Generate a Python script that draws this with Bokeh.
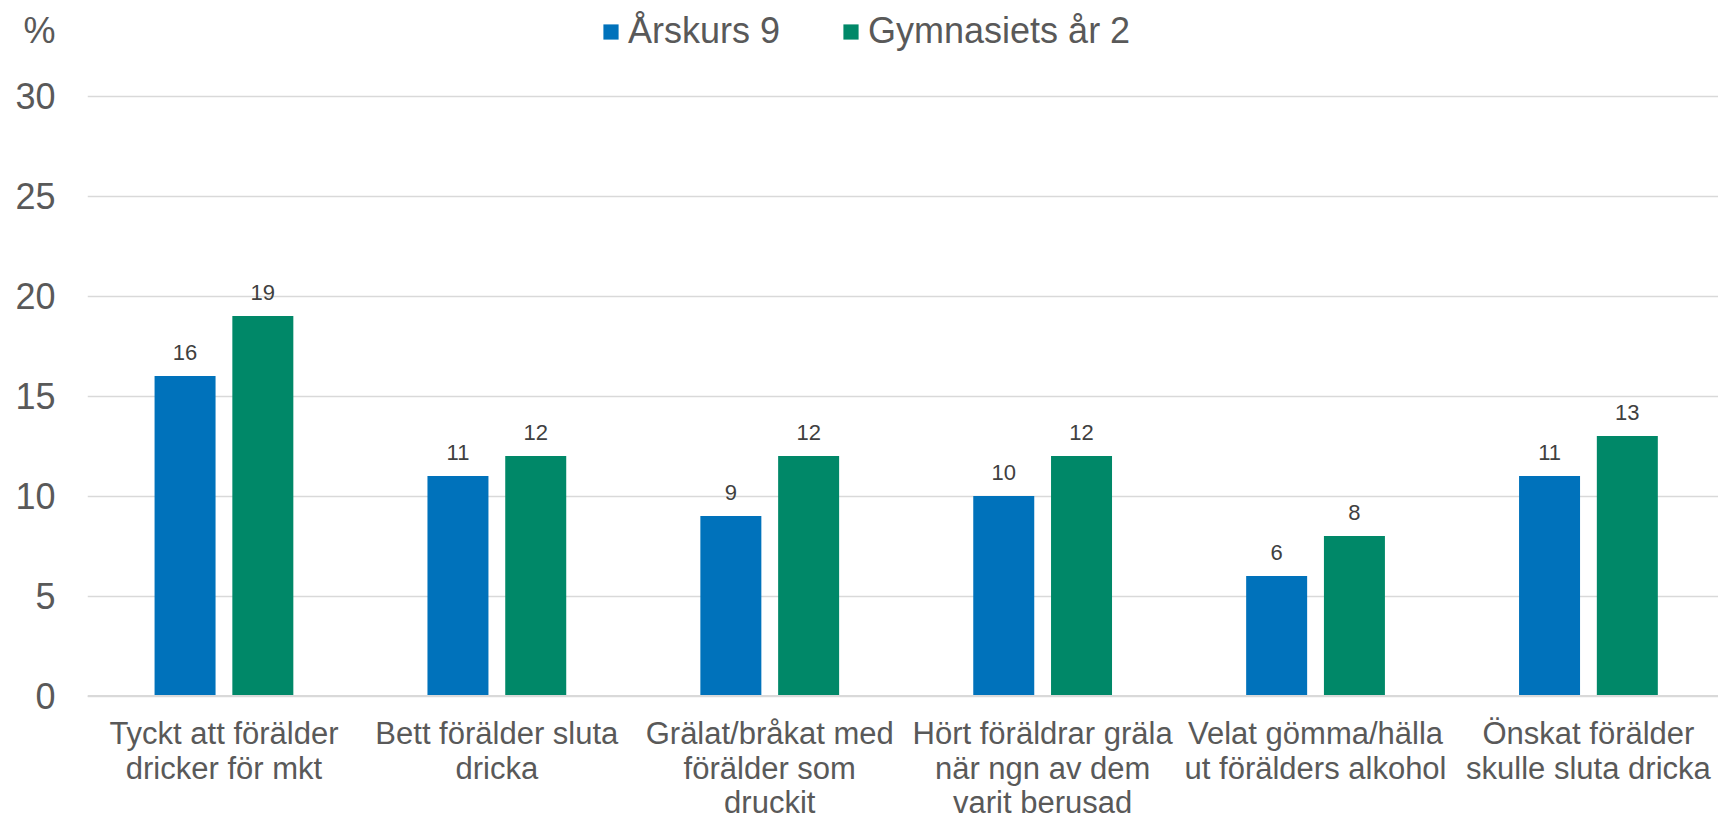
from bokeh.plotting import figure
from bokeh.models import (ColumnDataSource, Range1d, FixedTicker, Legend, LegendItem, Span)
from bokeh.core.properties import value
from bokeh.embed import file_html
from bokeh.resources import INLINE

categories = [
    "Tyckt att förälder\ndricker för mkt",
    "Bett förälder sluta\ndricka",
    "Grälat/bråkat med\nförälder som\ndruckit",
    "Hört föräldrar gräla\nnär ngn av dem\nvarit berusad",
    "Velat gömma/hälla\nut förälders alkohol",
    "Önskat förälder\nskulle sluta dricka",
]
series_names = ["Årskurs 9", "Gymnasiets år 2"]
arskurs9 = [16, 11, 9, 10, 6, 11]
gymnasiet2 = [19, 12, 12, 12, 8, 13]
y_ticks = [0, 5, 10, 15, 20, 25, 30]
unit_label = "%"
unit_pos = 33.275

BLUE = "#0072bb"
GREEN = "#008868"
FONT = "Liberation Sans"

centers = [i + 0.5 for i in range(len(categories))]
offset = 0.1425
bar_w = 0.2235

src_a = ColumnDataSource(dict(x=[c - offset for c in centers], top=arskurs9,
                              lbl=[str(v) for v in arskurs9]))
src_b = ColumnDataSource(dict(x=[c + offset for c in centers], top=gymnasiet2,
                              lbl=[str(v) for v in gymnasiet2]))
src_c = ColumnDataSource(dict(x=centers, y=[0] * len(centers), lbl=categories))

p = figure(width=1718, height=822, output_backend="svg", toolbar_location=None,
           x_range=Range1d(0, 5.9766), y_range=Range1d(-6.325, 34.775),
           x_axis_location=None,
           min_border_left=87, min_border_right=0, min_border_top=0,
           min_border_bottom=0)
p.outline_line_color = None
p.background_fill_color = "white"
p.border_fill_color = "white"

ra = p.vbar(x="x", top="top", bottom=0, width=bar_w, source=src_a,
            fill_color=BLUE, line_color=None)
rb = p.vbar(x="x", top="top", bottom=0, width=bar_w, source=src_b,
            fill_color=GREEN, line_color=None)

for src in (src_a, src_b):
    p.text(x="x", y="top", text="lbl", source=src, text_align="center",
           text_baseline="middle", y_offset=-24, text_font=value(FONT),
           text_font_size="22px", text_color="#404040")

# category axis line and labels
p.add_layout(Span(location=0, dimension="width", line_color="#d9d9d9", line_width=2))
p.text(x="x", y="y", text="lbl", source=src_c, text_align="center",
       text_baseline="top", y_offset=20, text_font=value(FONT),
       text_font_size="31px", text_color="#595959", text_line_height=0.99)

# y axis
p.yaxis.ticker = FixedTicker(ticks=y_ticks + [unit_pos])
p.yaxis.major_label_overrides = {unit_pos: unit_label}
p.yaxis.axis_line_color = None
p.yaxis.major_tick_line_color = None
p.yaxis.minor_tick_line_color = None
p.yaxis.major_tick_out = 0
p.yaxis.major_label_standoff = 32
p.yaxis.major_label_text_font = FONT
p.yaxis.major_label_text_font_size = "36px"
p.yaxis.major_label_text_color = "#595959"
p.ygrid.ticker = FixedTicker(ticks=y_ticks)
p.ygrid.grid_line_color = "#d9d9d9"
p.ygrid.grid_line_width = 1.3
p.xgrid.grid_line_color = None

legend = Legend(items=[LegendItem(label=series_names[0], renderers=[ra]),
                       LegendItem(label=series_names[1], renderers=[rb])],
                orientation="horizontal", location=(514, 770),
                glyph_width=19, glyph_height=19, label_standoff=8, spacing=61,
                padding=0, margin=0, border_line_color=None,
                background_fill_alpha=0,
                label_text_font=FONT, label_text_font_size="36px",
                label_text_color="#595959")
p.add_layout(legend, "center")

open("out.html", "w").write(file_html(p, INLINE))
